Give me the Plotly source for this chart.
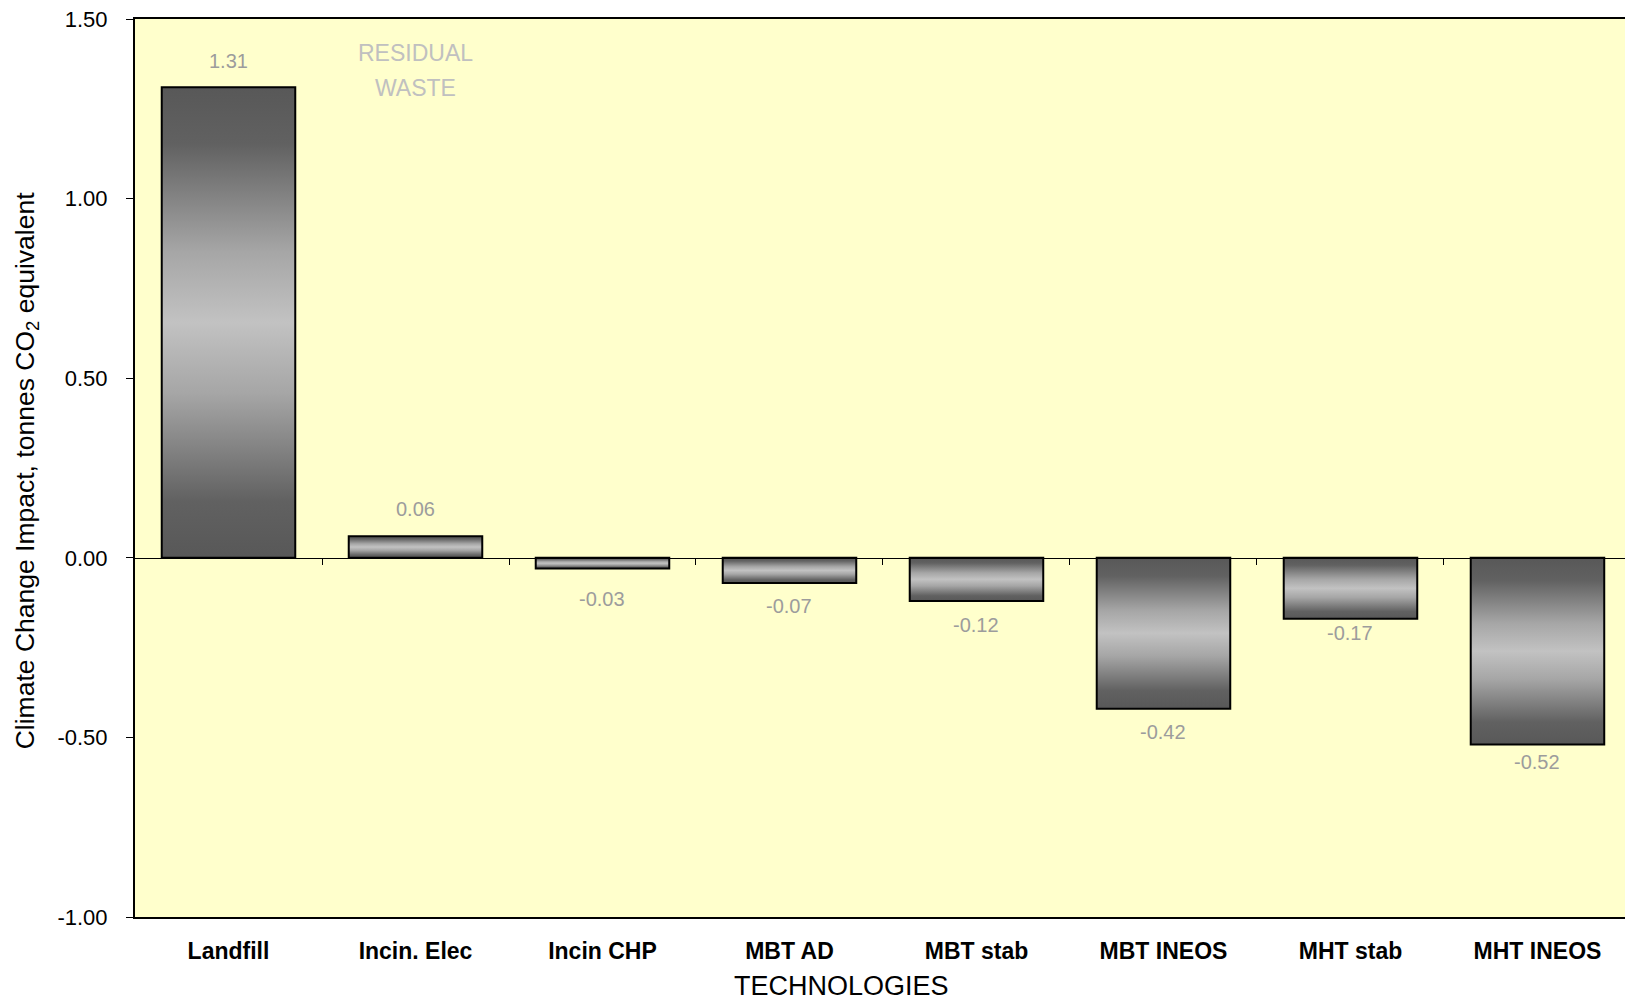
import plotly.graph_objects as go

# Climate change impact per technology (tonnes CO2 equivalent)
categories = ["Landfill", "Incin. Elec", "Incin CHP", "MBT AD", "MBT stab",
              "MBT INEOS", "MHT stab", "MHT INEOS"]
impact = [1.31, 0.06, -0.03, -0.07, -0.12, -0.42, -0.17, -0.52]
y_ticks = [-1.0, -0.5, 0.0, 0.5, 1.0, 1.5]

# pixel gap between the end of each bar and its value label
label_gap = [26, 27, 30, 23, 24, 23, 14, 17]

BAR_W = 0.714
Y_RANGE = [-1.0, 1.5]
X_RANGE = [-0.5, 7.468]
FONT = "Liberation Sans, Arial, sans-serif"

# metallic grey shading: dark at both ends, light band through the middle
shade = [[0.0, "#585858"], [0.12, "#616161"], [0.35, "#a6a6a6"], [0.5, "#c2c2c2"],
         [0.65, "#a6a6a6"], [0.88, "#616161"], [1.0, "#585858"]]

fig = go.Figure()

# gradient-filled body of each bar
for i, v in enumerate(impact):
    x0, x1 = i - BAR_W / 2, i + BAR_W / 2
    fig.add_trace(go.Scatter(
        x=[x0, x1, x1, x0, x0], y=[0, 0, v, v, 0],
        mode="lines", line=dict(width=0), fill="toself",
        fillgradient=dict(type="vertical", colorscale=shade),
        hoverinfo="skip", showlegend=False))

# bar outlines
fig.add_trace(go.Bar(
    x=list(range(len(categories))), y=impact, width=BAR_W,
    marker=dict(color="rgba(0,0,0,0)", line=dict(color="black", width=2)),
    xaxis="x2", hoverinfo="skip", showlegend=False))

# value labels
for i, (v, gap) in enumerate(zip(impact, label_gap)):
    fig.add_annotation(
        x=i, y=v, xref="x", yref="y", text=f"{v:.2f}", showarrow=False,
        yshift=gap if v > 0 else -gap,
        font=dict(family=FONT, size=20, color="#9c9c9c"))

# corner note
for txt, ypix in (("RESIDUAL", 53), ("WASTE", 88)):
    fig.add_annotation(
        x=1.0, y=Y_RANGE[1], xref="x", yref="y", text=txt, showarrow=False,
        yanchor="middle", yshift=19 - ypix,
        font=dict(family=FONT, size=23, color="#c0c0c0"))

# axis titles
fig.add_annotation(
    x=-0.0855, y=0.497, xref="paper", yref="paper", textangle=-90,
    text="Climate Change Impact, tonnes CO<sub>2</sub> equivalent",
    showarrow=False, font=dict(family=FONT, size=26.5, color="black"))
fig.add_annotation(
    x=(841 - 135) / 1490, y=-0.077, xref="paper", yref="paper",
    text="TECHNOLOGIES", showarrow=False, yanchor="middle",
    font=dict(family=FONT, size=27, color="black"))

zero_pos = (0 - Y_RANGE[0]) / (Y_RANGE[1] - Y_RANGE[0])

fig.update_layout(
    width=1625, height=1003,
    margin=dict(l=135, r=0, t=19, b=86),
    paper_bgcolor="white", plot_bgcolor="#FFFFCC",
    showlegend=False,
    xaxis=dict(
        range=X_RANGE, tickmode="array",
        tickvals=list(range(len(categories))), ticktext=categories,
        ticks="", ticklabelstandoff=12, showgrid=False, zeroline=False,
        showline=True, linecolor="black", linewidth=2, mirror=True,
        tickfont=dict(family=FONT, size=23, color="black", weight="bold")),
    xaxis2=dict(
        range=X_RANGE, overlaying="x", anchor="free", position=zero_pos,
        tickmode="array", tickvals=[i + 0.5 for i in range(len(categories))],
        ticks="outside", ticklen=6, tickwidth=1, tickcolor="black",
        showticklabels=False, showgrid=False, zeroline=False,
        showline=True, linecolor="black", linewidth=1),
    yaxis=dict(
        range=Y_RANGE, tickmode="array", tickvals=y_ticks,
        ticktext=[f"{t:.2f}" for t in y_ticks],
        ticks="outside", ticklen=7, tickwidth=1, tickcolor="black",
        ticklabelstandoff=14, showgrid=False, zeroline=False,
        showline=True, linecolor="black", linewidth=2,
        tickfont=dict(family=FONT, size=22, color="black")),
)

fig.write_html("out.html")
